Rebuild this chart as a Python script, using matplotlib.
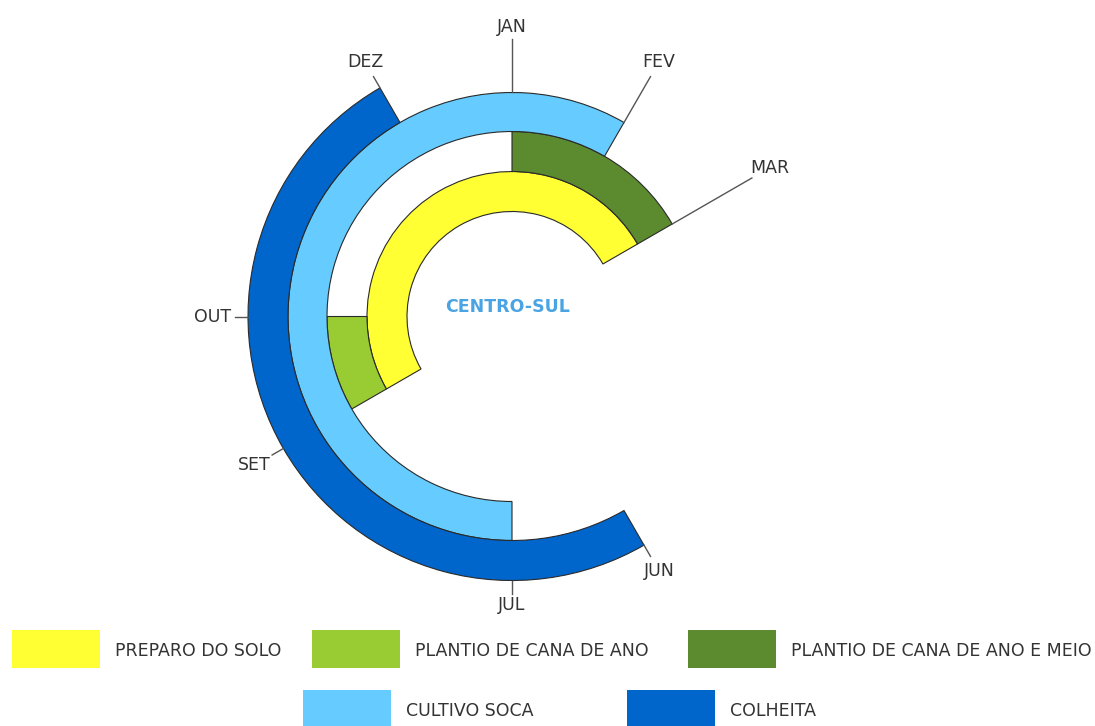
import numpy as np
import matplotlib
matplotlib.use("Agg")
import matplotlib.pyplot as plt
from matplotlib.patches import Rectangle

# Calendar data (months: 0 = JAN ... 11 = DEZ, values > 11 wrap into next year)
stages = ["PREPARO DO SOLO", "PLANTIO DE CANA DE ANO", "PLANTIO DE CANA DE ANO E MEIO",
          "CULTIVO SOCA", "COLHEITA"]
stage_start = [8, 8, 0, 6, 5]      # SET, SET, JAN, JUL, JUN
stage_end = [14, 9, 2, 13, 11]     # MAR, OUT, MAR, FEV, DEZ
stage_ring = [0, 1, 1, 2, 3]
colors = ["#FFFF33", "#99CC33", "#5B8A2F", "#66CCFF", "#0066CC"]

months = ["JAN", "FEV", "MAR", "ABR", "MAI", "JUN", "JUL", "AGO", "SET", "OUT", "NOV", "DEZ"]
labeled_months = [0, 1, 2, 5, 6, 8, 9, 11]
tick_from_ring = [2, 2, 1, 3, 3, 3, 3, 3]   # ring whose outer edge the tick starts on

ring_bottom = [105, 145, 185, 224]
ring_height = [40, 40, 39, 40]

W, H = 1095, 726
fig = plt.figure(figsize=(W / 100, H / 100), dpi=100)

# polar axes: 1 data unit of radius = 1 pixel, centre at (512, 316.5) from top-left
cx, cy, R = 512, 316.5, 300
ax = fig.add_axes([(cx - R) / W, (H - cy - R) / H, 2 * R / W, 2 * R / H], projection="polar")
ax.set_theta_zero_location("N")
ax.set_theta_direction(-1)
ax.set_ylim(0, R)
ax.set_axis_off()

step = 2 * np.pi / 12
for s, e, ring, c in zip(stage_start, stage_end, stage_ring, colors):
    ax.bar(s * step, ring_height[ring], width=(e - s) * step, bottom=ring_bottom[ring],
           align="edge", color=c, edgecolor="#2a2a2a", linewidth=0.8)

for m, ring in zip(labeled_months, tick_from_ring):
    th = m * step
    r0 = ring_bottom[ring] + ring_height[ring]
    ax.plot([th, th], [r0, 277], color="#555555", lw=1.0, clip_on=False)
    rl = 289 + 10 * abs(np.sin(th))
    ax.text(th, rl, months[m], ha="center", va="center", fontsize=12.5,
            color="#333333", clip_on=False)

fig.text((cx - 4) / W, 1 - 307 / H, "CENTRO-SUL", ha="center", va="center",
         fontsize=12.5, fontweight="bold", color="#4AA3E3")

# legend drawn in pixel coordinates
lax = fig.add_axes([0, 0, 1, 1])
lax.set_xlim(0, W)
lax.set_ylim(H, 0)
lax.set_axis_off()
legend_box_x = [12, 312, 688, 303, 627]
legend_box_y = [630, 630, 630, 690, 690]
for name, c, x, y in zip(stages, colors, legend_box_x, legend_box_y):
    lax.add_patch(Rectangle((x, y), 88, 38, color=c, lw=0))
    lax.text(x + 103, y + 21, name, ha="left", va="center", fontsize=12.5, color="#333333")

fig.savefig("out.png", dpi=100, facecolor="white")
